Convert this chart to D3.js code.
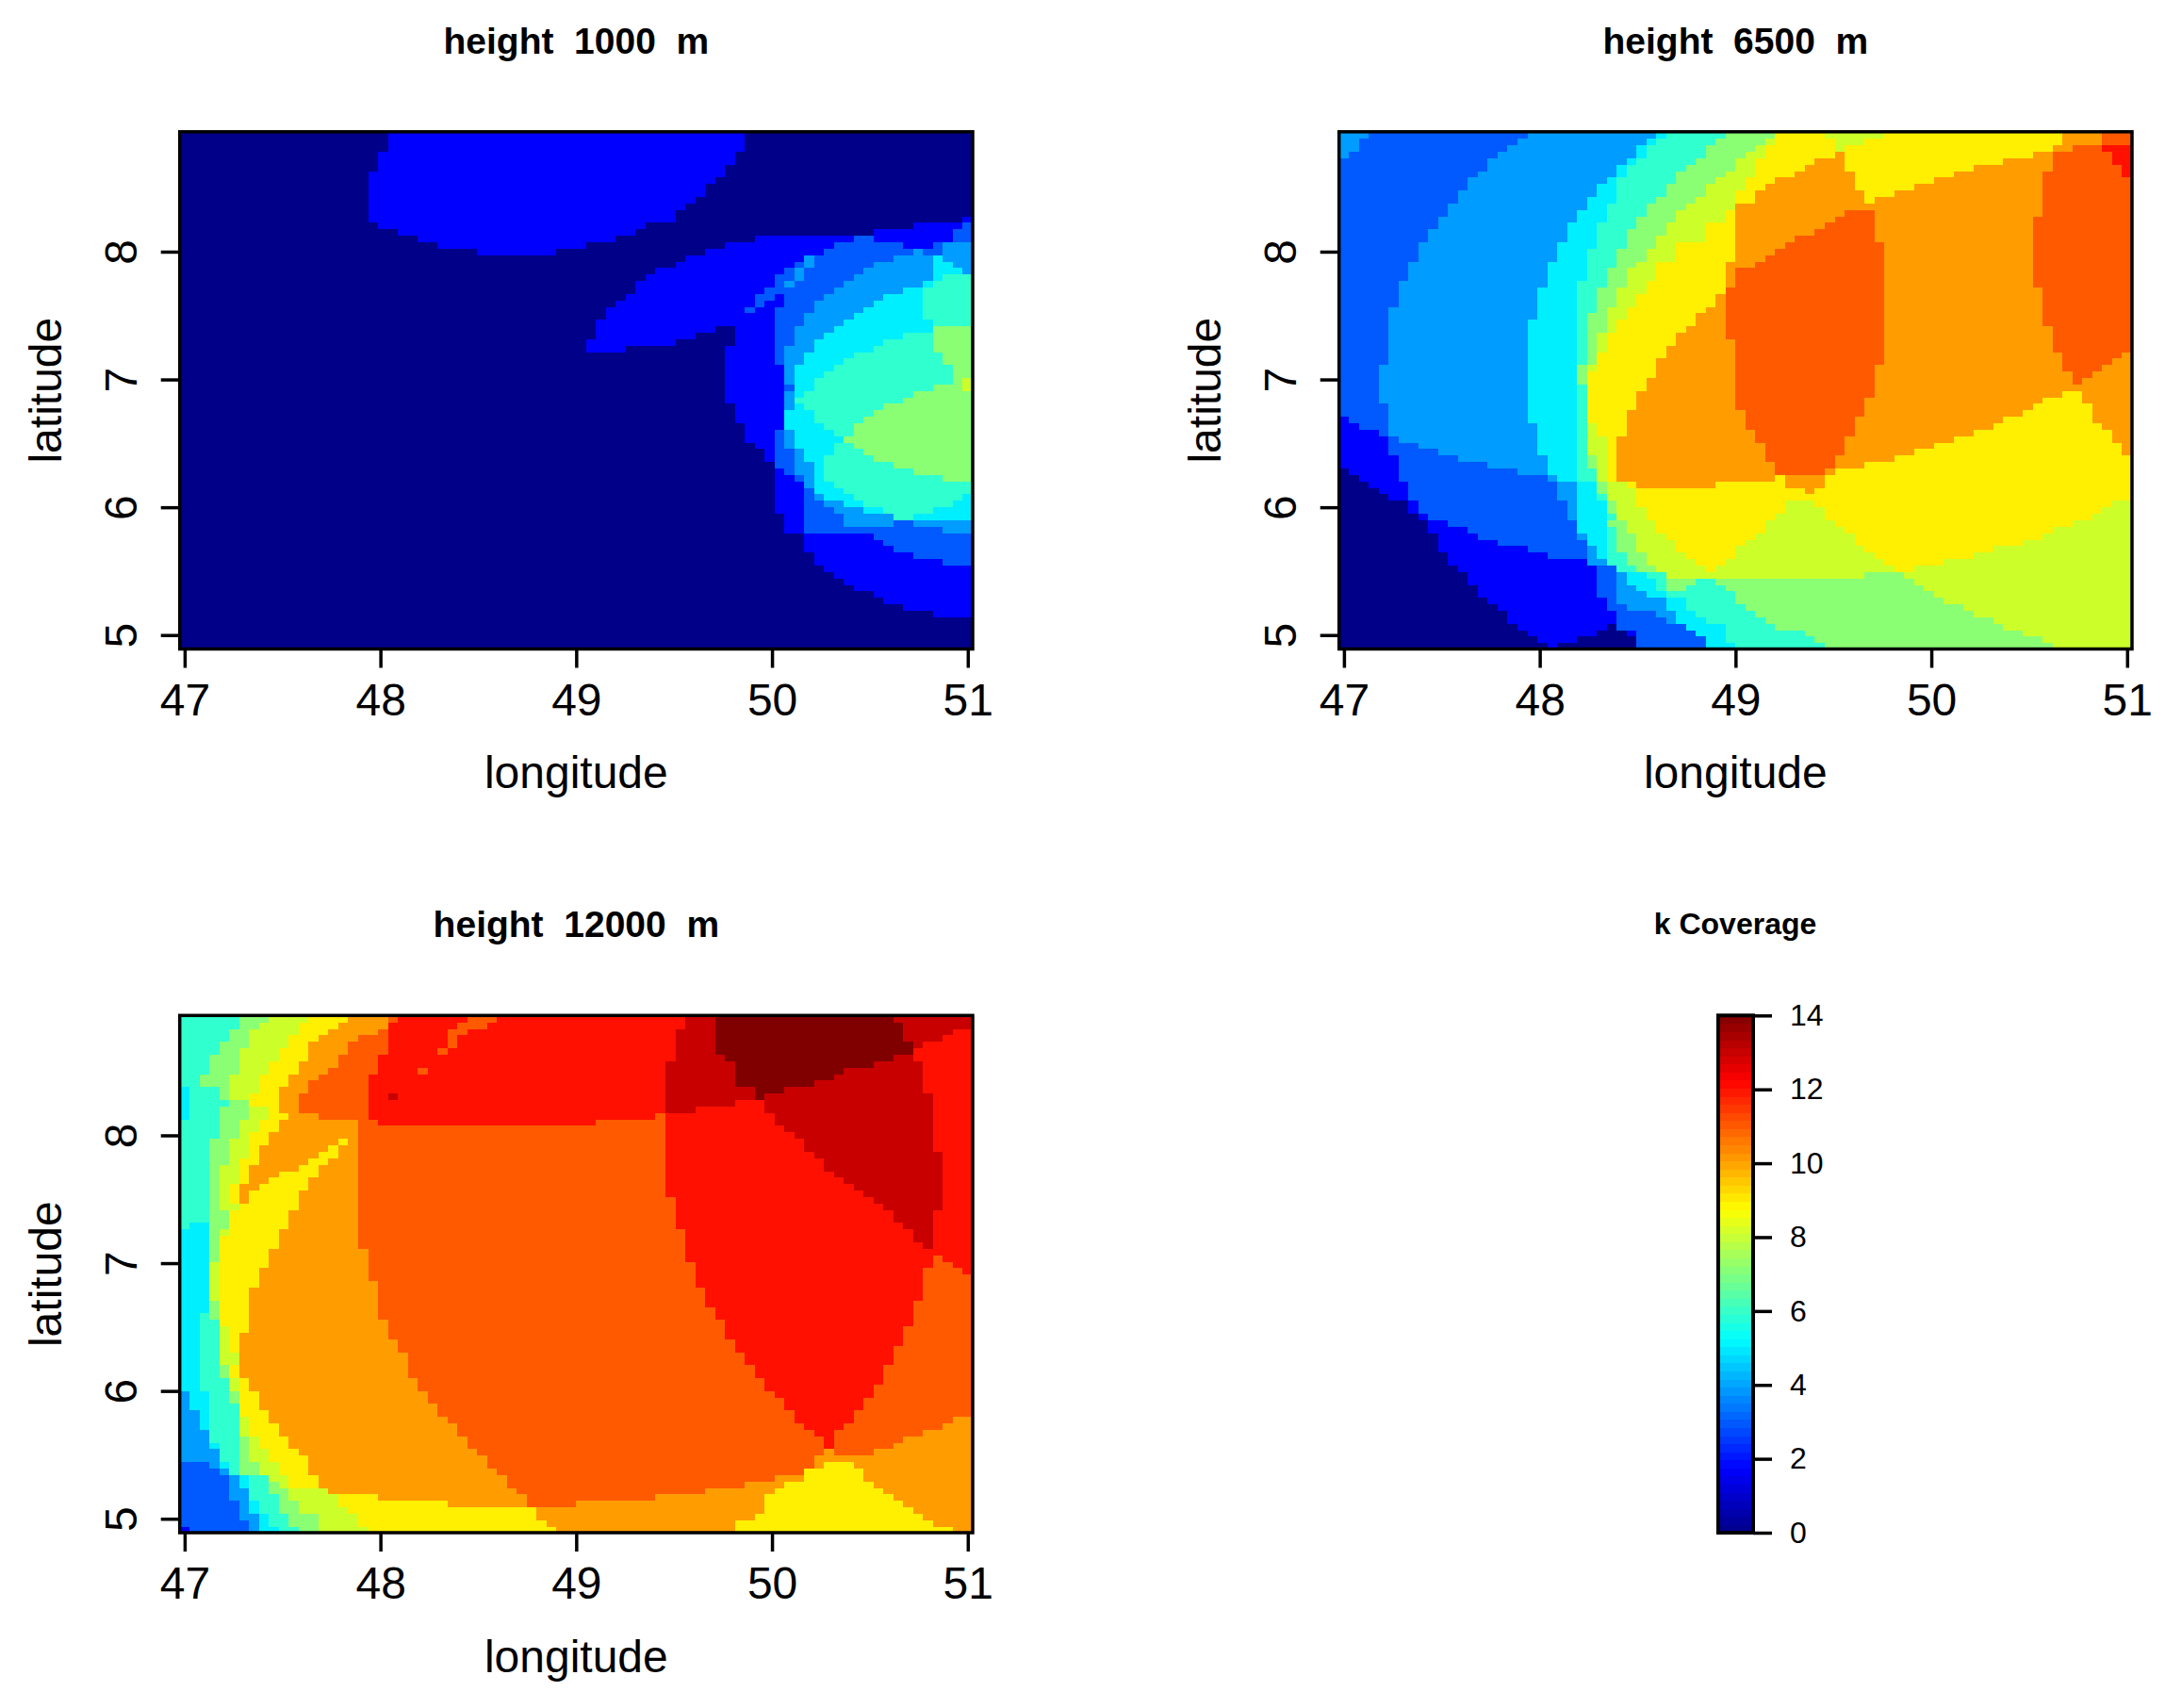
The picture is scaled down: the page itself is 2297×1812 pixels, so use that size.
<!DOCTYPE html>
<html><head><meta charset="utf-8">
<script src="https://cdn.jsdelivr.net/npm/d3@7/dist/d3.min.js"></script>
<style>html,body{margin:0;padding:0;background:#fff}svg{display:block}text{font-family:"Liberation Sans",Arial,sans-serif;fill:#000}</style>
</head><body><div id="chart"></div>
<script>
// Each row (top to bottom, 80 rows): "k@position" runs of k coverage, position read on a 0-81 ruler across the panel.
const rows1000 = [
"0@0 2@21 0@58","0@0 2@21 0@58","0@0 2@21 0@58","0@0 2@20 0@57","0@0 2@20 0@57",
"0@0 2@20 0@56","0@0 2@19 0@56","0@0 2@19 0@55","0@0 2@19 0@54","0@0 2@19 0@54",
"0@0 2@19 0@53","0@0 2@19 0@52","0@0 2@19 0@51","0@0 2@19 0@51 2@80",
"0@0 2@20 0@48 2@75 3@80","0@0 2@22 0@47 2@71 3@79","0@0 2@24 0@45 2@59 3@69 2@71 3@79",
"0@0 2@26 0@42 2@56 3@67 2@74 3@77 4@78","0@0 2@30 0@38 2@54 3@66 4@75 3@76 4@78",
"0@0 2@52 4@64 3@65 4@73 5@77 4@78","0@0 2@51 3@63 4@64 3@65 4@71 5@77 4@79",
"0@0 2@49 3@62 4@63 3@64 4@70 5@77 4@80","0@0 2@48 3@61 4@63 3@64 4@69 5@77 6@78",
"0@0 2@47 3@61 4@62 3@63 4@68 5@76 6@77","0@0 2@47 3@60 4@67 5@74 6@76",
"0@0 2@46 3@59 2@61 3@62 4@66 5@72 6@76","0@0 2@45 3@59 2@60 3@62 4@65 5@71 6@76",
"0@0 2@44 3@58 2@59 3@61 4@65 5@70 6@76","0@0 2@44 3@61 4@64 5@69 6@76",
"0@0 2@43 3@61 4@64 5@68 6@77","0@0 2@43 0@55 2@57 3@61 4@63 5@67 7@77",
"0@0 2@43 0@53 2@57 3@61 4@63 5@66 6@74 7@77","0@0 2@42 0@51 2@57 3@61 4@63 5@65 6@72 7@77",
"0@0 2@42 0@46 2@56 3@61 4@62 5@65 6@71 7@77","0@0 2@56 3@61 4@62 5@64 6@69 7@78",
"0@0 2@56 3@61 4@62 5@64 6@68 7@78","0@0 2@56 4@62 5@63 6@67 7@79","0@0 2@56 4@62 5@63 6@66 7@79",
"0@0 2@56 4@62 5@63 6@65 7@79 8@80","0@0 2@56 3@62 5@63 6@65 7@77 8@80","0@0 2@56 4@62 5@63 6@64 7@75",
"0@0 2@56 4@62 6@63 7@74","0@0 2@57 4@62 5@63 6@64 7@72","0@0 2@57 5@62 6@65 7@71","0@0 2@57 5@62 6@65 7@70",
"0@0 2@58 5@62 6@66 7@69","0@0 2@58 3@61 4@62 5@63 6@67 7@69","0@0 2@58 3@61 4@62 5@63 7@68",
"0@0 2@59 3@61 4@62 5@63 6@67 7@69","0@0 2@60 3@61 4@63 5@64 6@67 7@70","0@0 2@60 3@61 4@63 5@64 6@66 7@71",
"0@0 3@61 4@63 5@65 6@66 7@73","0@0 2@61 3@62 4@63 5@65 6@66 7@75","0@0 2@61 3@63 4@64 5@65 6@66 7@78",
"0@0 2@61 4@64 5@65 6@67","0@0 2@61 3@64 5@65 6@68","0@0 2@61 3@64 4@65 5@66 6@69 5@80",
"0@0 2@61 3@64 4@66 5@68 6@70 5@79","0@0 2@61 3@64 4@67 5@70 6@72 5@77","0@0 2@62 3@64 4@68 6@73 5@75",
"0@0 2@62 3@64 4@68 3@73 4@75","0@0 2@62 3@64 4@78","0@0 2@64 3@71","0@0 2@64 3@72","0@0 2@64 3@73",
"0@0 2@65 3@75","0@0 2@65 3@78","0@0 2@66","0@0 2@67","0@0 2@68","0@0 2@69","0@0 2@71","0@0 2@72","0@0 2@74","0@0 2@77",
"0@0","0@0","0@0","0@0","0@0"
];
const rows6500 = [
"4@0 3@3 4@19 5@32 6@33 7@39 9@45 8@50 9@56 10@74 11@78",
"4@0 3@2 4@18 5@31 6@32 7@38 8@44 9@45 8@51 9@54 10@74 11@78",
"4@0 3@2 4@17 5@30 6@31 7@37 8@43 9@44 8@51 9@52 10@73 11@75 12@78",
"4@0 3@1 4@16 5@30 6@31 7@37 8@42 9@44 10@51 9@52 10@71 11@73 12@79",
"3@0 4@15 5@29 6@30 7@36 8@41 9@43 10@49 9@52 10@68 11@73 12@79",
"3@0 4@15 5@28 6@29 7@35 8@40 9@43 10@48 9@52 10@65 11@73 12@80",
"3@0 4@14 5@28 6@29 7@34 8@39 9@43 10@47 9@53 10@63 11@72 12@80",
"3@0 4@13 5@27 6@28 7@34 8@38 9@42 10@45 9@53 10@61 11@72",
"3@0 4@13 5@26 6@28 7@33 8@37 9@42 10@44 9@53 10@59 11@72",
"3@0 4@12 5@26 6@28 7@33 8@37 9@41 10@43 9@54 10@57 11@72",
"3@0 4@12 5@25 6@28 7@32 8@36 9@41 10@43 9@54 10@55 11@72",
"3@0 4@11 5@25 6@27 7@31 8@35 9@40 10@41 11@72",
"3@0 4@11 5@24 6@27 7@31 8@34 9@39 10@41 11@52 10@55 11@72",
"3@0 4@10 5@24 6@27 7@30 8@34 9@39 10@41 11@51 10@55 11@71",
"3@0 4@10 5@23 6@26 7@30 8@33 9@37 10@40 11@50 10@55 11@71",
"3@0 4@9 5@23 6@26 7@29 8@33 9@37 10@40 11@49 10@55 11@71",
"3@0 4@9 5@23 6@26 7@29 8@32 9@37 10@40 11@47 10@55 11@71",
"3@0 4@8 5@22 6@26 7@29 8@32 9@34 10@40 11@46 10@56 11@71",
"3@0 4@8 5@22 6@25 7@28 8@31 9@34 10@40 11@45 10@56 11@71",
"3@0 4@8 5@22 6@25 7@28 8@31 9@34 10@40 11@44 10@56 11@71",
"3@0 4@7 5@21 6@25 7@28 8@30 9@32 10@39 11@43 10@56 11@71",
"3@0 4@7 5@21 6@25 7@27 8@29 9@32 10@39 11@41 10@56 11@71",
"3@0 4@7 5@21 6@25 7@27 8@29 9@32 10@39 11@41 10@56 11@71",
"3@0 4@6 5@21 6@24 7@27 8@29 9@31 10@39 11@40 10@56 11@71",
"3@0 4@6 5@20 6@24 7@26 8@28 9@31 11@39 10@56 11@72",
"3@0 4@6 5@20 6@24 7@26 8@28 9@30 10@38 11@39 10@56 11@72",
"3@0 4@6 5@20 6@24 7@26 8@28 9@30 10@38 11@39 10@56 11@72",
"3@0 4@5 5@20 6@24 7@26 8@27 9@29 10@37 11@39 10@56 11@72",
"3@0 4@5 5@20 6@24 7@25 8@27 9@29 10@36 11@39 10@56 11@72",
"3@0 4@5 5@19 6@24 7@25 8@27 9@28 10@36 11@39 10@56 11@72",
"3@0 4@5 5@19 6@24 7@25 8@27 9@28 10@35 11@39 10@56 11@73",
"3@0 4@5 5@19 6@24 7@25 8@26 9@27 10@34 11@39 10@56 11@73",
"3@0 4@5 5@19 6@24 7@25 8@26 9@27 10@34 11@40 10@56 11@73",
"3@0 4@5 5@19 6@24 7@25 8@26 9@27 10@33 11@40 10@56 11@73",
"3@0 4@5 5@19 6@24 7@25 9@26 10@33 11@40 10@56 11@74 10@80",
"3@0 4@5 5@19 6@24 7@25 9@26 10@32 11@40 10@56 11@74 10@79",
"3@0 4@4 5@19 7@24 8@25 9@26 10@32 11@40 10@55 11@74 10@78",
"3@0 4@4 5@19 7@24 9@25 10@32 11@40 10@55 11@75 10@77",
"3@0 4@4 5@19 7@24 9@25 10@31 11@40 10@55 11@75 10@76",
"3@0 4@4 5@19 6@24 9@25 10@31 11@41 10@55",
"3@0 4@4 5@19 6@24 9@25 10@30 11@41 10@55 9@74 10@76",
"3@0 4@4 5@19 6@24 9@25 10@30 11@41 10@54 9@72 10@76",
"3@0 4@5 5@19 6@24 9@25 10@30 11@41 10@54 9@71 10@77",
"3@0 4@5 5@19 6@24 9@25 10@29 11@42 10@54 9@70 10@77",
"2@0 3@1 4@5 5@19 6@24 9@25 10@29 11@42 10@53 9@68 10@77",
"2@0 3@2 4@5 5@20 6@24 8@25 9@26 10@29 11@42 10@53 9@67 10@78",
"2@0 3@4 4@5 5@20 6@24 8@25 9@26 10@29 11@43 10@53 9@65 10@79",
"2@0 3@5 4@6 5@20 6@24 8@25 9@27 10@28 11@43 10@52 9@63 10@79",
"2@0 3@5 4@8 5@20 6@24 8@25 9@27 10@28 11@44 10@52 9@61 10@80",
"2@0 3@5 4@10 5@20 6@24 8@25 9@27 10@28 11@44 10@52 9@59 10@80",
"2@0 3@6 4@12 5@21 6@24 7@25 8@26 9@27 10@28 11@44 10@51 9@57",
"2@0 3@6 4@15 5@21 6@24 7@25 8@26 9@27 10@28 11@45 10@51 9@54",
"0@0 2@1 3@6 4@18 5@21 6@24 8@26 9@27 10@28 11@45 10@50 9@51",
"0@0 2@2 3@6 4@21 5@22 6@24 8@26 9@27 10@28 9@45 10@46 9@50",
"0@0 2@3 3@7 4@22 5@24 7@26 8@27 9@29 10@30 9@38 10@46 9@50",
"0@0 2@4 3@7 4@22 5@24 7@26 8@27 9@30 10@48 9@49",
"0@0 2@5 3@7 4@22 5@24 6@26 8@27 9@30",
"0@0 2@7 3@8 4@23 5@24 7@27 8@28 9@30 8@46 9@49 8@79",
"0@0 2@7 3@8 4@23 5@24 7@27 8@28 9@31 8@46 9@50 8@78",
"0@0 2@8 3@9 4@23 5@24 6@27 8@28 9@31 8@45 9@50 8@77",
"0@0 2@9 3@11 5@24 7@27 8@29 9@32 8@44 9@51 8@75",
"0@0 2@9 3@13 5@24 6@27 7@28 8@29 9@32 8@44 9@52 8@73",
"0@0 2@10 3@14 4@24 5@25 6@27 7@28 8@30 9@33 8@43 9@53 8@72",
"0@0 2@10 3@16 5@25 6@27 7@28 8@30 9@34 8@42 9@53 8@70",
"0@0 2@10 3@19 4@25 5@26 6@27 7@28 8@30 9@34 8@41 9@54 8@67",
"0@0 2@11 3@21 4@25 5@26 6@27 7@29 8@31 9@35 8@40 9@55 8@65",
"0@0 2@11 4@25 6@27 7@29 8@31 9@36 8@39 9@56 8@62",
"0@0 2@12 3@26 6@28 7@30 8@32 9@37 8@38 9@57 8@59",
"0@0 2@13 3@26 4@28 5@29 6@31 8@33 7@54 8@58",
"0@0 2@13 3@26 4@28 5@29 6@32 7@33 6@36 7@38 8@59",
"0@0 2@14 3@26 4@28 5@30 6@32 7@33 6@35 7@39 8@60",
"0@0 2@14 3@26 4@28 5@31 6@33 7@40 8@61",
"0@0 2@15 3@27 4@28 5@33 6@35 7@41 8@62",
"0@0 2@16 3@27 4@29 5@33 6@35 7@42 8@64",
"0@0 2@17 3@28 4@32 5@34 6@36 7@43 8@65",
"0@0 2@17 3@28 4@33 5@34 6@37 7@44 8@67",
"0@0 2@18 0@27 3@28 5@35 6@39 7@45 8@68",
"0@0 2@19 0@26 2@29 3@30 5@36 6@39 7@48 8@70",
"0@0 2@20 0@24 3@30 5@37 6@39 7@49 8@72",
"0@0 2@21 0@22 3@30 5@37 6@40 7@50 8@73"
];
const rows12000 = [
"6@0 7@6 8@9 9@13 10@17 11@21 12@22 11@29 12@32 13@52 14@55 13@73",
"6@0 7@6 8@8 9@12 10@16 12@21 11@28 12@31 13@52 14@55 13@74",
"6@0 7@5 8@7 9@12 10@15 11@20 12@21 11@27 12@29 13@51 14@55 13@74 12@79",
"6@0 7@5 8@7 9@11 10@14 11@18 12@21 11@27 12@28 13@51 14@55 13@74 12@78",
"6@0 7@4 8@7 9@11 10@13 11@17 12@21 11@27 12@28 13@51 14@55 13@75 12@76",
"6@0 7@4 8@6 9@10 10@13 11@17 12@21 11@26 12@27 13@51 14@55 12@75",
"6@0 7@3 8@6 9@10 10@13 11@16 12@20 13@51 14@56 13@73 12@75",
"6@0 7@3 8@6 9@9 10@12 11@16 12@20 13@50 14@57 13@71 12@76",
"6@0 7@3 8@6 9@9 10@12 11@15 12@20 11@24 12@25 13@50 14@57 13@68 12@76",
"6@0 7@2 8@5 9@8 10@11 11@14 12@19 13@50 14@57 13@67 12@76",
"6@0 7@2 8@5 9@8 10@11 11@13 12@19 13@50 14@57 13@65 12@76",
"5@0 6@1 7@4 8@5 9@8 10@10 11@13 12@19 13@50 14@59 13@62 12@76",
"5@0 6@1 7@4 8@5 9@7 10@10 11@12 12@19 13@21 12@22 13@50 14@59 13@60 12@77",
"5@0 6@1 7@5 9@7 10@10 11@12 12@19 13@50 12@57 13@60 12@77",
"5@0 6@1 7@4 8@7 9@9 10@10 11@12 12@19 13@50 12@53 13@60 12@77",
"5@0 6@1 7@4 8@7 9@9 10@11 11@14 12@19 11@49 12@50 13@61 12@77",
"6@0 7@4 8@6 9@8 10@10 11@18 12@20 11@43 12@50 13@61 12@77",
"6@0 7@4 8@6 9@8 10@10 11@18 12@50 13@62 12@77",
"6@0 7@4 8@6 9@7 10@9 11@18 12@50 13@63 12@77",
"6@0 7@3 8@5 9@7 10@9 9@16 10@17 11@18 12@50 13@64 12@77",
"6@0 7@3 8@5 9@7 10@8 9@15 10@16 11@18 12@50 13@64 12@77",
"6@0 7@3 8@5 9@7 10@8 9@14 10@16 11@18 12@50 13@65 12@78",
"6@0 7@3 8@5 9@6 10@8 9@13 10@15 11@18 12@50 13@66 12@78",
"6@0 7@3 8@4 9@6 10@7 9@12 10@14 11@18 12@50 13@66 12@78",
"6@0 7@3 8@4 9@6 10@7 9@10 10@14 11@18 12@50 13@67 12@78",
"6@0 7@3 8@4 9@6 10@7 9@9 10@13 11@18 12@50 13@68 12@78",
"6@0 7@3 8@4 9@5 10@6 9@8 10@13 11@18 12@50 13@69 12@78",
"6@0 7@3 8@4 9@5 10@6 9@7 10@12 11@18 12@50 13@70 12@78",
"6@0 7@3 8@4 9@5 10@6 9@7 10@12 11@18 12@51 13@71 12@78",
"6@0 7@3 8@4 9@6 10@12 11@18 12@51 13@72 12@78",
"6@0 7@3 9@5 10@11 11@18 12@51 13@73 12@77",
"6@0 7@3 9@5 10@11 11@18 12@51 13@73 12@77",
"6@0 5@1 7@3 9@5 10@11 11@18 12@51 13@74 12@77",
"5@0 7@3 8@4 9@5 10@10 11@18 12@52 13@75 12@77",
"5@0 7@3 9@4 10@10 11@18 12@52 13@75 12@77",
"5@0 7@3 9@4 10@10 11@18 12@52 13@76 12@77",
"5@0 7@3 9@4 10@9 11@19 12@52",
"5@0 7@3 9@4 10@9 11@19 12@52 11@77 12@78",
"5@0 8@3 9@4 10@9 11@19 12@53 11@77 12@79",
"5@0 8@3 9@4 10@8 11@19 12@53 11@76 12@80",
"5@0 8@3 9@4 10@8 11@19 12@53 11@76",
"5@0 8@3 9@4 10@8 11@20 12@53 11@76",
"5@0 8@3 9@4 10@7 11@20 12@54 11@76",
"5@0 8@3 9@4 10@7 11@20 12@54 11@76",
"5@0 7@3 9@4 10@7 11@20 12@54 11@75",
"5@0 7@3 9@4 10@7 11@20 12@55 11@75",
"5@0 6@2 7@3 9@4 10@7 11@20 12@55 11@75",
"5@0 6@2 9@4 10@7 11@21 12@56 11@75",
"5@0 6@2 8@4 9@5 10@7 11@21 12@56 11@74",
"5@0 6@2 8@4 9@5 10@6 11@21 12@56 11@74",
"5@0 6@2 8@4 9@5 10@6 11@22 12@57 11@74",
"5@0 6@2 8@4 9@5 10@6 11@22 12@57 11@73",
"5@0 6@2 8@4 10@6 11@23 12@58 11@73",
"5@0 6@2 8@4 10@6 11@23 12@58 11@73",
"5@0 6@2 7@4 9@5 10@6 11@23 12@59 11@72",
"5@0 6@2 7@4 9@5 10@6 11@23 12@59 11@72",
"5@0 6@2 8@5 9@6 10@7 11@24 12@60 11@72",
"5@0 6@2 8@5 9@6 10@7 11@24 12@60 11@71",
"4@0 5@1 6@3 7@5 9@6 10@8 11@25 12@61 11@71",
"4@0 5@1 6@3 7@5 9@6 10@8 11@25 12@62 11@70",
"4@0 5@1 6@3 9@6 10@8 11@26 12@62 11@70",
"4@0 5@2 6@3 9@6 10@9 11@26 12@63 11@69",
"4@0 5@2 6@3 8@6 9@7 10@9 11@27 12@63 11@69 10@79",
"4@0 5@2 6@3 8@6 9@7 10@10 11@28 12@64 11@68 10@78",
"4@0 6@3 8@6 9@7 10@10 11@28 12@65 11@67 10@76",
"4@0 6@3 7@6 8@7 9@8 10@11 11@29 12@66 11@67 10@74",
"4@0 5@3 6@4 7@6 8@7 9@8 10@11 11@29 12@66 11@67 10@73",
"4@0 6@4 7@6 8@7 9@9 10@12 11@30 10@66 11@67 10@71",
"4@0 6@4 7@6 8@7 9@9 10@13 11@31 10@65",
"3@0 4@3 5@4 6@5 7@6 8@8 9@10 10@13 11@31 10@65 9@66 10@69",
"3@0 4@4 6@5 7@6 8@8 9@10 10@13 11@32 9@64 10@70",
"3@0 4@5 5@6 6@7 8@9 9@11 10@14 11@33 10@61 9@64 10@70",
"3@0 4@5 5@6 6@7 7@9 8@10 9@11 10@14 11@33 10@58 9@62 10@71",
"3@0 4@5 6@7 7@9 8@11 10@15 11@34 10@54 9@61 10@72",
"3@0 4@5 6@7 7@10 8@11 9@16 10@20 11@35 10@49 9@60 10@73",
"3@0 4@6 5@7 6@8 7@10 8@12 9@16 10@27 11@35 10@41 9@60 10@74",
"3@0 4@6 5@7 6@8 7@10 8@12 9@17 10@36 9@60 10@75",
"3@0 4@6 5@8 6@9 7@11 8@14 9@18 10@36 9@59 10@76",
"3@0 4@7 5@8 6@9 7@11 8@14 9@18 10@37 9@57 10@77",
"2@0 3@1 4@7 5@8 6@10 7@12 8@14 9@19 10@38 9@57 10@79"
];
const lonTicks = [47,48,49,50,51];
const latTicks = [5,6,7,8];
const legendTicks = [0,2,4,6,8,10,12,14];
const heights = [1000,6500,12000];
const kLevels = [0,2,3,4,5,6,7,8,9,10,11,12,13,14];
const kColours = ["#000088","#0000ff","#005aff","#009cff","#00efff","#30ffcf","#8aff74","#ccff2a","#ffef00","#ff9c00","#ff5a00","#ff1000","#c80000","#800000"];

const W=2297,H=1812, nCols=80, nRows=80, ruler=81;
const svg=d3.select("#chart").append("svg").attr("width",W).attr("height",H).attr("viewBox",`0 0 ${W} ${H}`);
svg.append("rect").attr("width",W).attr("height",H).attr("fill","#fff");
const colour=d3.scaleOrdinal(kLevels,kColours);
const PW=841.3, PH=548.7, LEFT=190.7, TOP=139.8, DX=1230, DY=937.5;
const x=d3.scaleLinear().domain([47-0.025,47+0.025+80*0.05]).range([0,PW]);
const y=d3.scaleLinear().domain([4.891,8.938]).range([PH,0]);
const colBand=d3.scaleBand().domain(d3.range(nCols+1)).range([0,PW+PW/nCols]);
const rowBand=d3.scaleBand().domain(d3.range(nRows)).range([0.6,PH+0.6]);
const colOf=p=>Math.round(p*nCols/ruler);

function panel(rows,height,ox,oy){
  const g=svg.append("g").attr("transform",`translate(${ox},${oy})`);
  const runs=[];
  rows.forEach((row,r)=>{
    const toks=row.split(" ").map(t=>t.split("@").map(Number));
    toks.forEach(([k,p],i)=>{
      const end=i+1<toks.length?colOf(toks[i+1][1]):nCols;
      runs.push({k,c:colOf(p),end,r});
    });
  });
  g.append("g").selectAll("rect").data(runs.filter(d=>d.end>d.c)).join("rect")
    .attr("x",d=>colBand(d.c))
    .attr("width",d=>colBand(d.end)-colBand(d.c))
    .attr("y",d=>rowBand(d.r))
    .attr("height",d=>Math.min(rowBand.bandwidth()+0.5,PH-rowBand(d.r)))
    .attr("fill",d=>colour(d.k))
    .attr("shape-rendering","crispEdges");
  const ax=g.append("g").attr("transform",`translate(0,${PH})`)
    .call(d3.axisBottom(x).tickValues(lonTicks).tickSize(20).tickPadding(16).tickFormat(d3.format("d")));
  ax.select(".domain").remove();
  ax.selectAll("line").attr("stroke","#000").attr("stroke-width",3.5);
  ax.selectAll("text").attr("font-size",48);
  const ay=g.append("g").call(d3.axisLeft(y).tickValues(latTicks).tickSize(20).tickFormat(d3.format("d")));
  ay.select(".domain").remove();
  ay.selectAll("line").attr("stroke","#000").attr("stroke-width",3.5);
  ay.selectAll("text").attr("font-size",48).attr("x",null).attr("dy",null)
    .attr("text-anchor","middle")
    .attr("transform","translate(-46,0) rotate(-90)");
  g.append("rect").attr("width",PW).attr("height",PH).attr("fill","none").attr("stroke","#000").attr("stroke-width",3.5);
  g.append("text").attr("x",PW/2).attr("y",-83).attr("text-anchor","middle").attr("font-size",39).attr("font-weight","bold")
    .attr("xml:space","preserve").style("white-space","pre").text(`height  ${height}  m`);
  g.append("text").attr("x",PW/2).attr("y",PH+148).attr("text-anchor","middle").attr("font-size",48).text("longitude");
  g.append("text").attr("transform",`translate(-126,${PH/2}) rotate(-90)`).attr("text-anchor","middle").attr("font-size",48).text("latitude");
}
panel(rows1000,heights[0],LEFT,TOP);
panel(rows6500,heights[1],LEFT+DX,TOP);
panel(rows12000,heights[2],LEFT,TOP+DY);

// legend
const jet=d3.scaleLinear().domain([0,1/8,3/8,5/8,7/8,1]).range(["#000088","#0000ff","#00ffff","#ffff00","#ff0000","#800000"]);
const lg=svg.append("g").attr("transform",`translate(1823,${TOP+DY})`);
const ly=d3.scaleLinear().domain([0,14]).range([PH,0]);
const steps=d3.range(64);
lg.append("g").selectAll("rect").data(steps).join("rect")
  .attr("x",0).attr("width",37)
  .attr("y",d=>ly((d+1)/64*14)).attr("height",PH/64+0.5)
  .attr("fill",d=>jet((d+0.5)/64)).attr("shape-rendering","crispEdges");
lg.append("rect").attr("width",37).attr("height",PH).attr("fill","none").attr("stroke","#000").attr("stroke-width",4);
const la=lg.append("g").attr("transform","translate(37,0)").call(d3.axisRight(ly).tickValues(legendTicks).tickSize(20).tickPadding(19));
la.select(".domain").remove();
la.selectAll("line").attr("stroke","#000").attr("stroke-width",3.5);
la.selectAll("text").attr("font-size",32);
svg.append("text").attr("x",1841).attr("y",991).attr("text-anchor","middle").attr("font-size",32).attr("font-weight","bold").text("k Coverage");
</script></body></html>
